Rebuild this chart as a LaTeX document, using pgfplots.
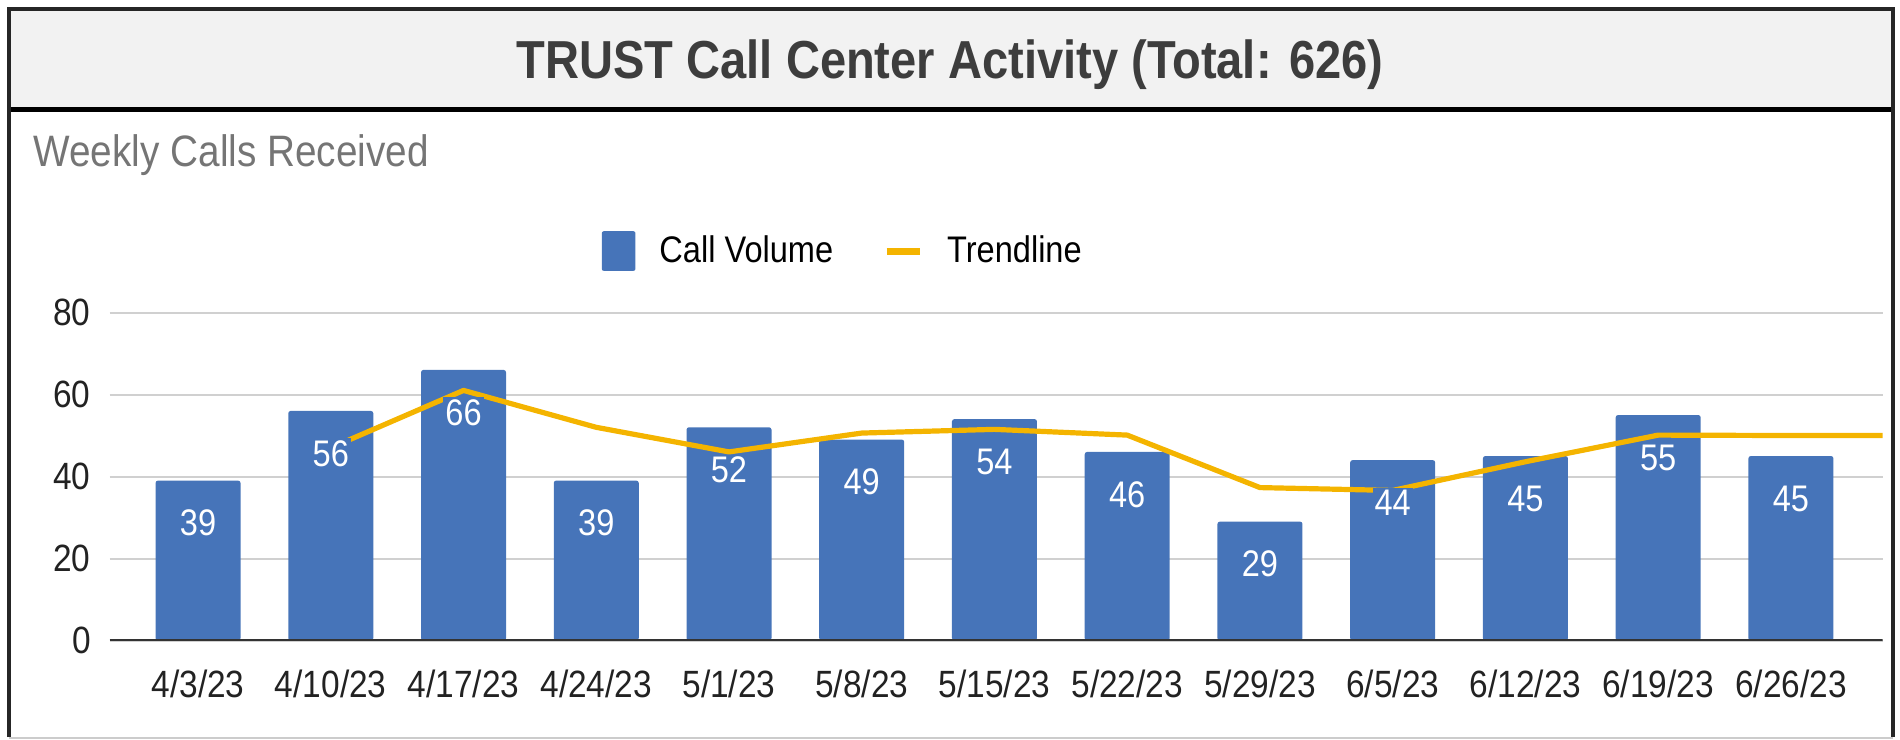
\documentclass[border=0pt]{standalone}
\usepackage{fontspec}
\setmainfont{Liberation Sans}[FakeStretch=0.88]
\usepackage{pgfplots}
\pgfplotsset{compat=1.18}
\definecolor{barblue}{RGB}{70,116,185}
\definecolor{trend}{RGB}{244,180,0}
\definecolor{gridgray}{RGB}{208,208,208}
\definecolor{titlegray}{RGB}{61,61,61}
\definecolor{subgray}{RGB}{117,117,117}
\definecolor{bandgray}{RGB}{242,242,242}
\definecolor{ticktext}{RGB}{34,34,34}
\begin{document}
\begin{tikzpicture}[x=1pt,y=1pt]
\path[use as bounding box] (0,0) rectangle (950,-369.5);
\fill[bandgray] (4.5,-4.25) rectangle (946.7,-54.75);
\draw[black, line width=2.2pt] (4.5,-54.75) -- (946.7,-54.75);
\draw[black!85, line width=2pt] (4.5,-368.5) -- (4.5,-4.25) -- (946.7,-4.25) -- (946.7,-368.5);
\draw[gray!40, line width=0.8pt] (4.5,-368.9) -- (946.7,-368.9);
\node[anchor=base, inner sep=0pt, font=\bfseries\fontsize{26.75}{30}\selectfont, text=titlegray] at (475,-39.15) {TRUST Call Center Activity (Total: 626)};
\node[anchor=base west, inner sep=0pt, font=\fontsize{22}{26}\selectfont, text=subgray] at (16.6,-83.35) {Weekly Calls Received};
\begin{axis}[
  at={(54.75pt,-320.25pt)}, anchor=south west,
  width=886.5pt, height=164pt, scale only axis,
  xmin=-0.667, xmax=12.69, ymin=0, ymax=80,
  ytick={0,20,40,60,80},
  xtick={0,...,12},
  xticklabels={4/3/23,4/10/23,4/17/23,4/24/23,5/1/23,5/8/23,5/15/23,5/22/23,5/29/23,6/5/23,6/12/23,6/19/23,6/26/23},
  ymajorgrids, grid style={gridgray, line width=1pt},
  axis line style={draw=none},
  major tick length=0pt,
  /pgf/number format/assume math mode=true,
  ticklabel style={font=\fontsize{19}{22}\selectfont, text=ticktext, inner sep=0pt},
  yticklabel style={xshift=-9.25pt},
  xticklabel style={anchor=north, yshift=-14.4pt},
  legend columns=2,
  legend style={at={(0.413,1.1875)}, anchor=center, draw=none, fill=none, inner sep=0pt,
    font=\fontsize{18.5}{22}\selectfont, nodes={inner sep=0pt},
    /tikz/every odd column/.append style={column sep=12pt},
    /tikz/every even column/.append style={column sep=25pt}},
]
\addplot[ybar, bar width=42.5pt, fill=barblue, draw=none, rounded corners=1.2pt,
  legend image code/.code={\fill[barblue, rounded corners=1pt] (0pt,-9.9pt) rectangle (16.85pt,9.9pt);}]
  coordinates {(0,39) (1,56) (2,66) (3,39) (4,52) (5,49) (6,54) (7,46) (8,29) (9,44) (10,45) (11,55) (12,45)};
\addlegendentry{Call Volume}
\addplot[trend, line width=2.6pt, line join=round, mark=none,
  legend image code/.code={\draw[trend, line width=3.5pt] (0pt,0pt) -- (16.5pt,0pt);}]
  coordinates {(1,47) (2,61) (3,52) (4,46) (5,50.6) (6,51.5) (7,50.1) (8,37.3) (9,36.6) (10,43.6) (11,50.1) (12,50) (12.69,50)};
\addlegendentry{Trendline}
\addplot[draw=none, mark=none, forget plot, nodes near coords, point meta=y,
  every node near coord/.append style={font=\fontsize{18.5}{22}\selectfont, text=white, fill=barblue, inner sep=1pt, anchor=center, yshift=-21.3pt}]
  coordinates {(0,39) (1,56) (2,66) (3,39) (4,52) (5,49) (6,54) (7,46) (8,29) (9,44) (10,45) (11,55) (12,45)};
\draw[black!80, line width=1.2pt] (rel axis cs:0,0) -- (rel axis cs:1,0);
\end{axis}
\end{tikzpicture}
\end{document}
